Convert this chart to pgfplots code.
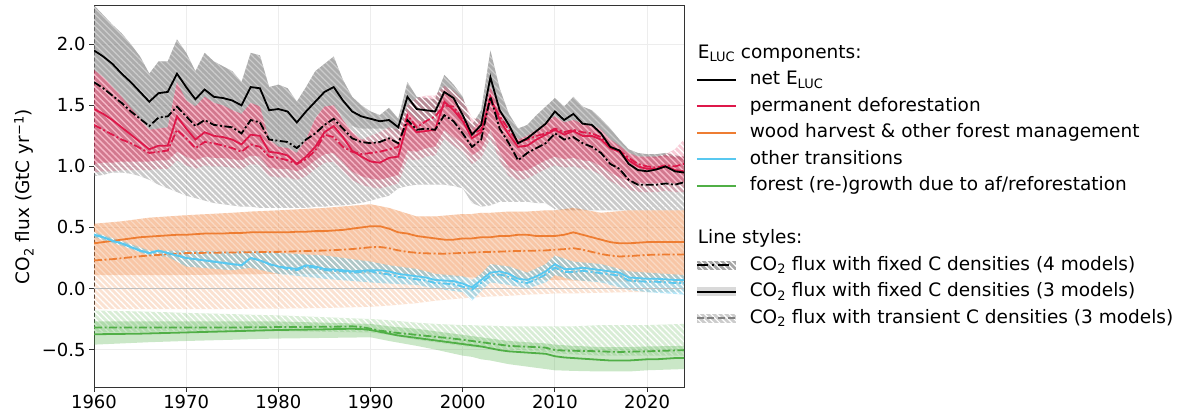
\documentclass[border=0pt]{standalone}
\usepackage{fontspec}
\setmainfont{DejaVu Sans}
\usepackage{pgfplots}
\pgfplotsset{compat=1.18}
\usepackage{pgfplotstable}
\usepgfplotslibrary{fillbetween}
\usetikzlibrary{patterns.meta}

\definecolor{defc}{RGB}{222,24,74}
\definecolor{woodc}{RGB}{238,125,50}
\definecolor{othc}{RGB}{88,200,240}
\definecolor{growc}{RGB}{80,175,70}
\definecolor{zeroc}{RGB}{190,190,190}

% mean fluxes (GtC/yr): 3-model (solid) and 4-model (dash-dot) means
\pgfplotstableread{
year net3 net4 def3 def4 wood3 wood4 oth3 oth4 grow3 grow4
1960 1.95 1.69 1.47 1.34 0.370 0.230 0.440 0.440 -0.375 -0.320
1961 1.90 1.64 1.43 1.30 0.380 0.235 0.420 0.420 -0.374 -0.320
1962 1.84 1.58 1.38 1.26 0.390 0.240 0.390 0.390 -0.373 -0.320
1963 1.76 1.52 1.32 1.22 0.400 0.248 0.370 0.370 -0.372 -0.320
1964 1.69 1.45 1.26 1.19 0.410 0.256 0.340 0.340 -0.371 -0.320
1965 1.61 1.39 1.20 1.15 0.420 0.264 0.310 0.310 -0.370 -0.320
1966 1.53 1.33 1.14 1.11 0.425 0.270 0.290 0.290 -0.368 -0.320
1967 1.60 1.40 1.17 1.12 0.430 0.275 0.310 0.310 -0.366 -0.320
1968 1.61 1.41 1.17 1.13 0.435 0.280 0.290 0.290 -0.364 -0.320
1969 1.76 1.49 1.41 1.30 0.440 0.285 0.270 0.270 -0.362 -0.320
1970 1.65 1.41 1.31 1.23 0.440 0.290 0.250 0.250 -0.360 -0.320
1971 1.55 1.33 1.22 1.15 0.445 0.291 0.240 0.240 -0.358 -0.320
1972 1.63 1.38 1.28 1.20 0.450 0.292 0.230 0.230 -0.356 -0.320
1973 1.57 1.34 1.25 1.19 0.450 0.293 0.220 0.220 -0.354 -0.320
1974 1.56 1.33 1.24 1.17 0.450 0.294 0.210 0.210 -0.352 -0.320
1975 1.54 1.32 1.22 1.15 0.455 0.295 0.200 0.200 -0.350 -0.320
1976 1.50 1.27 1.18 1.12 0.455 0.296 0.190 0.190 -0.348 -0.319
1977 1.65 1.38 1.26 1.18 0.460 0.297 0.250 0.250 -0.346 -0.318
1978 1.64 1.36 1.25 1.16 0.460 0.298 0.230 0.230 -0.344 -0.318
1979 1.46 1.22 1.12 1.08 0.460 0.299 0.200 0.200 -0.342 -0.317
1980 1.47 1.21 1.11 1.07 0.460 0.300 0.180 0.180 -0.340 -0.316
1981 1.45 1.20 1.09 1.05 0.460 0.302 0.170 0.160 -0.339 -0.316
1982 1.36 1.15 1.02 1.02 0.465 0.305 0.160 0.150 -0.338 -0.315
1983 1.45 1.22 1.08 1.06 0.465 0.307 0.190 0.180 -0.337 -0.315
1984 1.53 1.27 1.16 1.13 0.470 0.309 0.180 0.170 -0.336 -0.314
1985 1.61 1.34 1.28 1.26 0.470 0.311 0.160 0.150 -0.335 -0.314
1986 1.65 1.39 1.33 1.24 0.475 0.314 0.155 0.145 -0.333 -0.313
1987 1.54 1.31 1.24 1.16 0.480 0.318 0.150 0.140 -0.331 -0.312
1988 1.45 1.23 1.13 1.12 0.490 0.323 0.140 0.130 -0.330 -0.310
1989 1.41 1.20 1.08 1.10 0.500 0.330 0.145 0.135 -0.332 -0.315
1990 1.39 1.19 1.04 1.11 0.510 0.338 0.150 0.140 -0.340 -0.330
1991 1.37 1.20 1.03 1.12 0.510 0.340 0.150 0.125 -0.355 -0.345
1992 1.38 1.23 1.07 1.14 0.490 0.330 0.140 0.115 -0.370 -0.355
1993 1.32 1.19 1.08 1.16 0.460 0.312 0.120 0.095 -0.385 -0.365
1994 1.57 1.38 1.36 1.42 0.450 0.300 0.110 0.085 -0.395 -0.372
1995 1.47 1.30 1.28 1.32 0.430 0.292 0.100 0.075 -0.405 -0.380
1996 1.46 1.31 1.29 1.37 0.420 0.288 0.090 0.065 -0.415 -0.388
1997 1.45 1.30 1.30 1.41 0.410 0.286 0.070 0.045 -0.425 -0.395
1998 1.61 1.42 1.53 1.50 0.400 0.285 0.065 0.040 -0.435 -0.403
1999 1.56 1.37 1.46 1.49 0.400 0.288 0.060 0.035 -0.445 -0.411
2000 1.42 1.27 1.37 1.38 0.410 0.291 0.040 0.015 -0.455 -0.420
2001 1.26 1.16 1.23 1.27 0.410 0.295 0.010 -0.010 -0.465 -0.430
2002 1.34 1.22 1.28 1.30 0.420 0.298 0.070 0.045 -0.475 -0.440
2003 1.73 1.57 1.57 1.54 0.420 0.300 0.130 0.105 -0.490 -0.450
2004 1.46 1.31 1.38 1.41 0.430 0.302 0.140 0.115 -0.505 -0.460
2005 1.34 1.19 1.26 1.30 0.430 0.305 0.120 0.095 -0.515 -0.470
2006 1.19 1.05 1.16 1.20 0.440 0.307 0.080 0.055 -0.520 -0.474
2007 1.23 1.11 1.17 1.22 0.440 0.309 0.070 0.045 -0.525 -0.477
2008 1.29 1.15 1.22 1.25 0.430 0.310 0.100 0.075 -0.530 -0.480
2009 1.35 1.19 1.26 1.27 0.430 0.312 0.140 0.115 -0.535 -0.485
2010 1.45 1.27 1.30 1.31 0.430 0.318 0.200 0.170 -0.555 -0.505
2011 1.38 1.22 1.26 1.28 0.440 0.322 0.160 0.135 -0.565 -0.508
2012 1.43 1.24 1.29 1.30 0.460 0.330 0.160 0.135 -0.570 -0.510
2013 1.35 1.19 1.25 1.28 0.440 0.318 0.170 0.145 -0.575 -0.512
2014 1.34 1.16 1.25 1.27 0.420 0.300 0.160 0.135 -0.580 -0.513
2015 1.27 1.11 1.22 1.24 0.400 0.282 0.150 0.125 -0.585 -0.515
2016 1.16 1.02 1.15 1.16 0.380 0.270 0.140 0.115 -0.590 -0.518
2017 1.13 0.98 1.12 1.13 0.370 0.262 0.130 0.105 -0.590 -0.520
2018 1.02 0.89 1.05 1.07 0.370 0.265 0.090 0.065 -0.590 -0.518
2019 0.97 0.85 1.00 1.02 0.375 0.270 0.085 0.060 -0.585 -0.516
2020 0.96 0.85 0.98 1.00 0.380 0.275 0.080 0.055 -0.580 -0.515
2021 0.975 0.85 0.98 0.99 0.380 0.277 0.080 0.055 -0.580 -0.512
2022 1.00 0.86 1.00 1.01 0.380 0.278 0.075 0.050 -0.575 -0.510
2023 0.96 0.85 0.97 1.00 0.380 0.278 0.070 0.045 -0.570 -0.507
2024 0.95 0.87 0.96 1.02 0.380 0.278 0.070 0.045 -0.570 -0.505
}\meantab

% ranges for net ELUC (gt, gl: fixed; gt, gtl: transient) and deforestation (pt, pb: fixed; ptt, pbt: transient)
\pgfplotstableread{
year gt gl gtl pt pb ptt pbt
1960 2.32 1.79 0.92 1.79 1.02 1.79 0.95
1961 2.24 1.73 0.93 1.73 1.03 1.73 0.96
1962 2.16 1.65 0.95 1.65 1.03 1.65 0.96
1963 2.09 1.57 0.95 1.57 1.04 1.57 0.97
1964 2.00 1.48 0.94 1.48 1.04 1.48 0.97
1965 1.90 1.39 0.92 1.39 1.04 1.39 0.97
1966 1.76 1.30 0.89 1.30 1.04 1.30 0.97
1967 1.86 1.31 0.85 1.31 1.05 1.31 0.98
1968 1.86 1.32 0.82 1.32 1.05 1.32 0.98
1969 2.04 1.69 0.79 1.69 1.12 1.69 1.05
1970 1.93 1.54 0.76 1.54 1.08 1.54 1.01
1971 1.78 1.49 0.74 1.49 1.05 1.49 0.98
1972 1.93 1.57 0.72 1.57 1.08 1.57 1.01
1973 1.86 1.52 0.70 1.52 1.07 1.52 1.00
1974 1.82 1.50 0.69 1.50 1.07 1.50 1.00
1975 1.78 1.46 0.68 1.46 1.06 1.46 0.99
1976 1.69 1.43 0.67 1.43 1.05 1.43 0.98
1977 1.93 1.52 0.67 1.52 1.09 1.52 1.02
1978 1.91 1.49 0.66 1.49 1.08 1.49 1.01
1979 1.65 1.22 0.66 1.22 0.99 1.22 0.92
1980 1.67 1.16 0.66 1.16 0.98 1.16 0.91
1981 1.64 1.15 0.66 1.15 0.98 1.15 0.91
1982 1.53 1.11 0.66 1.11 0.96 1.11 0.89
1983 1.65 1.22 0.66 1.22 0.99 1.22 0.92
1984 1.78 1.40 0.67 1.39 1.05 1.39 0.98
1985 1.84 1.49 0.67 1.49 1.10 1.49 1.03
1986 1.90 1.50 0.68 1.50 1.11 1.50 1.04
1987 1.71 1.40 0.68 1.38 1.04 1.38 0.97
1988 1.57 1.33 0.69 1.28 0.96 1.28 0.89
1989 1.50 1.31 0.70 1.22 0.92 1.22 0.85
1990 1.45 1.31 0.72 1.20 0.90 1.25 0.83
1991 1.42 1.31 0.74 1.19 0.89 1.28 0.82
1992 1.48 1.31 0.76 1.24 0.91 1.32 0.84
1993 1.39 1.25 0.82 1.20 0.93 1.30 0.86
1994 1.69 1.46 0.84 1.46 1.13 1.50 1.06
1995 1.57 1.38 0.85 1.38 1.12 1.56 1.05
1996 1.56 1.36 0.85 1.36 1.15 1.58 1.08
1997 1.55 1.38 0.85 1.38 1.16 1.58 1.09
1998 1.75 1.64 0.85 1.64 1.30 1.66 1.23
1999 1.67 1.55 0.84 1.55 1.24 1.62 1.17
2000 1.57 1.43 0.82 1.43 1.19 1.55 1.12
2001 1.34 1.30 0.70 1.30 1.09 1.40 1.02
2002 1.46 1.38 0.67 1.38 1.14 1.38 1.07
2003 1.95 1.65 0.68 1.65 1.30 1.65 1.23
2004 1.64 1.47 0.71 1.47 1.12 1.47 1.05
2005 1.43 1.30 0.71 1.30 0.99 1.30 0.92
2006 1.31 1.22 0.71 1.22 0.96 1.22 0.89
2007 1.34 1.25 0.71 1.25 0.97 1.25 0.90
2008 1.42 1.30 0.70 1.30 1.01 1.30 0.94
2009 1.49 1.36 0.70 1.36 1.05 1.36 0.98
2010 1.56 1.41 0.65 1.41 1.08 1.41 1.01
2011 1.49 1.36 0.64 1.36 1.06 1.36 0.99
2012 1.57 1.38 0.64 1.38 1.07 1.38 1.00
2013 1.49 1.35 0.64 1.35 1.05 1.35 0.98
2014 1.46 1.34 0.64 1.34 1.04 1.34 0.97
2015 1.39 1.30 0.64 1.30 1.00 1.30 0.93
2016 1.31 1.22 0.64 1.22 0.95 1.22 0.88
2017 1.22 1.17 0.64 1.17 0.91 1.17 0.84
2018 1.14 1.11 0.64 1.11 0.88 1.11 0.81
2019 1.11 1.08 0.64 1.08 0.86 1.08 0.79
2020 1.10 1.08 0.64 1.08 0.86 1.08 0.79
2021 1.10 1.07 0.64 1.08 0.86 1.08 0.79
2022 1.11 1.08 0.64 1.09 0.87 1.10 0.80
2023 1.09 1.06 0.64 1.08 0.86 1.14 0.79
2024 1.08 1.05 0.64 1.08 0.86 1.22 0.79
}\uptab

% ranges for wood harvest (o*), other transitions (b*) and regrowth (gf*: fixed, gt*: transient)
\pgfplotstableread{
year ot ob otb bt bb gft gfb gtt gtb
1960 0.53 0.11 -0.17 0.46 0.42 -0.27 -0.46 -0.18 -0.36
1963 0.55 0.11 -0.17 0.39 0.35 -0.27 -0.45 -0.185 -0.36
1966 0.58 0.11 -0.17 0.31 0.27 -0.27 -0.44 -0.19 -0.355
1968 0.59 0.11 -0.17 0.31 0.26 -0.27 -0.435 -0.195 -0.35
1970 0.60 0.11 -0.17 0.31 0.18 -0.27 -0.43 -0.20 -0.35
1975 0.62 0.115 -0.17 0.30 0.15 -0.27 -0.42 -0.21 -0.35
1977 0.63 0.115 -0.165 0.31 0.17 -0.27 -0.415 -0.215 -0.35
1980 0.64 0.12 -0.165 0.29 0.12 -0.27 -0.41 -0.22 -0.35
1985 0.66 0.12 -0.16 0.27 0.08 -0.28 -0.405 -0.235 -0.355
1990 0.69 0.12 -0.15 0.22 0.05 -0.29 -0.40 -0.25 -0.36
1992 0.66 0.115 -0.14 0.19 0.04 -0.31 -0.43 -0.26 -0.38
1995 0.59 0.105 -0.12 0.16 0.03 -0.33 -0.47 -0.28 -0.42
1997 0.59 0.10 -0.10 0.12 0.00 -0.35 -0.50 -0.29 -0.44
2000 0.61 0.09 -0.08 0.10 -0.03 -0.38 -0.55 -0.30 -0.47
2001 0.61 0.09 -0.075 0.07 -0.10 -0.39 -0.56 -0.30 -0.48
2002 0.62 0.085 -0.07 0.12 -0.02 -0.40 -0.58 -0.305 -0.485
2003 0.62 0.085 -0.065 0.20 0.05 -0.41 -0.59 -0.305 -0.49
2005 0.63 0.08 -0.06 0.18 0.03 -0.43 -0.62 -0.31 -0.50
2007 0.63 0.075 -0.05 0.13 0.00 -0.44 -0.64 -0.31 -0.51
2009 0.64 0.07 -0.045 0.20 0.05 -0.45 -0.66 -0.31 -0.52
2010 0.64 0.07 -0.04 0.27 0.11 -0.46 -0.67 -0.31 -0.53
2012 0.66 0.065 -0.04 0.22 0.07 -0.47 -0.675 -0.31 -0.54
2015 0.62 0.06 -0.035 0.20 0.05 -0.48 -0.68 -0.30 -0.55
2018 0.64 0.055 -0.03 0.14 -0.01 -0.48 -0.68 -0.30 -0.55
2020 0.64 0.05 -0.03 0.13 -0.03 -0.475 -0.67 -0.30 -0.55
2024 0.64 0.05 -0.03 0.11 -0.05 -0.47 -0.66 -0.29 -0.55
}\lowtab

\pgfplotsset{
  hatchw/.style={draw=none, pattern={Lines[angle=-45,distance=4.3pt,line width=1.2pt]}, pattern color=white, fill opacity=0.5},
  solidl/.style={line width=1.8pt},
  dashdotl/.style={line width=1.8pt, dash pattern=on 8pt off 2.5pt on 2pt off 2.5pt},
  legline/.style={legend image code/.code={\draw[##1] (0pt,0pt) -- (39pt,0pt);}},
  legA/.style={legend image code/.code={
      \fill[draw=none, black!35] (0pt,-4.5pt) rectangle (39pt,4.5pt);
      \fill[draw=none, pattern={Lines[angle=-45,distance=4.3pt,line width=1.2pt]}, pattern color=white] (0pt,-4.5pt) rectangle (39pt,4.5pt);
      \draw[black, line width=1.8pt, dash pattern=on 11pt off 4pt on 2pt off 4pt on 11pt] (0pt,0pt) -- (39pt,0pt);}},
  legB/.style={legend image code/.code={
      \fill[draw=none, black!15] (0pt,-4.5pt) rectangle (39pt,4.5pt);
      \draw[black, line width=1.8pt] (0pt,0pt) -- (39pt,0pt);}},
  legC/.style={legend image code/.code={
      \fill[draw=none, black!20] (0pt,-4.5pt) rectangle (39pt,4.5pt);
      \fill[draw=none, pattern={Lines[angle=-45,distance=4.3pt,line width=1.2pt]}, pattern color=white] (0pt,-4.5pt) rectangle (39pt,4.5pt);
      \draw[black!50, line width=1.8pt, dash pattern=on 7pt off 3.5pt] (0pt,0pt) -- (39pt,0pt);}},
}

\begin{document}
\begin{tikzpicture}
\begin{axis}[
  at={(0pt,0pt)}, anchor=south west,
  scale only axis, width=590pt, height=381pt,
  xmin=1960, xmax=2024, ymin=-0.807, ymax=2.314,
  xtick={1960,1970,1980,1990,2000,2010,2020},
  xticklabels={1960,1970,1980,1990,2000,2010,2020},
  ytick={-0.5,0,0.5,1,1.5,2},
  yticklabels={−0.5,0.0,0.5,1.0,1.5,2.0},
  tick label style={font=\fontsize{18}{21}\selectfont},
  tick align=outside, major tick length=5pt,
  xtick pos=left, ytick pos=left,
  tick style={black!80, line width=1pt},
  axis line style={black!80, line width=1pt},
  grid=major, grid style={black!7, line width=1pt},
  ylabel={CO\textsubscript{2} flux (GtC yr\textsuperscript{−1})},
  ylabel style={font=\fontsize{18.5}{21}\selectfont, at={(axis description cs:-0.1186,0.5)}, anchor=center},
  legend cell align=left,
  legend style={draw=none, fill=none, at={(axis description cs:1,1)}, anchor=north west,
    xshift=12pt, yshift=-34pt, inner sep=0pt, outer sep=0pt,
    font=\fontsize{18.5}{21}\selectfont, row sep=0pt, column sep=11pt,
    nodes={inner sep=2pt, text height=16pt, text depth=6.5pt}},
]
% net ELUC ranges
\addplot[forget plot, draw=none, name path=gT] table[x=year, y=gt]{\uptab};
\addplot[forget plot, draw=none, name path=gL] table[x=year, y=gl]{\uptab};
\addplot[forget plot, draw=none, name path=gB] table[x=year, y=gtl]{\uptab};
\addplot[forget plot, draw=none, fill=black!50, fill opacity=0.42] fill between[of=gT and gB];
\addplot[forget plot, hatchw] fill between[of=gT and gB];
\addplot[forget plot, draw=none, fill=black!50, fill opacity=0.4] fill between[of=gT and gL];

% wood harvest ranges
\addplot[forget plot, draw=none, name path=oT] table[x=year, y=ot]{\lowtab};
\addplot[forget plot, draw=none, name path=oB] table[x=year, y=ob]{\lowtab};
\addplot[forget plot, draw=none, name path=oTB] table[x=year, y=otb]{\lowtab};
\addplot[forget plot, draw=none, fill=woodc, fill opacity=0.22] fill between[of=oT and oTB];
\addplot[forget plot, hatchw] fill between[of=oT and oTB];
\addplot[forget plot, draw=none, fill=woodc, fill opacity=0.28] fill between[of=oT and oB];

% zero reference
\addplot[forget plot, zeroc, line width=1.5pt] coordinates {(1960,0) (2024,0)};

% other transitions range
\addplot[forget plot, draw=none, name path=bT] table[x=year, y=bt]{\lowtab};
\addplot[forget plot, draw=none, name path=bB] table[x=year, y=bb]{\lowtab};
\addplot[forget plot, draw=none, fill=othc, fill opacity=0.45] fill between[of=bT and bB];
\addplot[forget plot, hatchw, fill opacity=0.3] fill between[of=bT and bB];

% regrowth ranges
\addplot[forget plot, draw=none, name path=rT] table[x=year, y=gtt]{\lowtab};
\addplot[forget plot, draw=none, name path=rB] table[x=year, y=gtb]{\lowtab};
\addplot[forget plot, draw=none, name path=rFT] table[x=year, y=gft]{\lowtab};
\addplot[forget plot, draw=none, name path=rFB] table[x=year, y=gfb]{\lowtab};
\addplot[forget plot, draw=none, fill=growc, fill opacity=0.22] fill between[of=rT and rB];
\addplot[forget plot, hatchw] fill between[of=rT and rB];
\addplot[forget plot, draw=none, fill=growc, fill opacity=0.3] fill between[of=rFT and rFB];

% permanent deforestation ranges
\addplot[forget plot, draw=none, name path=pTT] table[x=year, y=ptt]{\uptab};
\addplot[forget plot, draw=none, name path=pBT] table[x=year, y=pbt]{\uptab};
\addplot[forget plot, draw=none, name path=pT] table[x=year, y=pt]{\uptab};
\addplot[forget plot, draw=none, name path=pB] table[x=year, y=pb]{\uptab};
\addplot[forget plot, draw=none, fill=defc, fill opacity=0.22] fill between[of=pTT and pBT];
\addplot[forget plot, hatchw] fill between[of=pTT and pBT];
\addplot[forget plot, draw=none, fill=defc, fill opacity=0.3] fill between[of=pT and pB];

% mean lines
\addplot[forget plot, growc, dashdotl] table[x=year, y=grow4]{\meantab};
\addplot[forget plot, growc, solidl] table[x=year, y=grow3]{\meantab};
\addplot[forget plot, woodc, dashdotl] table[x=year, y=wood4]{\meantab};
\addplot[forget plot, woodc, solidl] table[x=year, y=wood3]{\meantab};
\addplot[forget plot, othc, dashdotl] table[x=year, y=oth4]{\meantab};
\addplot[forget plot, othc, solidl] table[x=year, y=oth3]{\meantab};
\addplot[forget plot, defc, dashdotl] table[x=year, y=def4]{\meantab};
\addplot[forget plot, defc, solidl] table[x=year, y=def3]{\meantab};
\addplot[forget plot, black, dashdotl] table[x=year, y=net4]{\meantab};
\addplot[forget plot, black, solidl] table[x=year, y=net3]{\meantab};

% legend
\addlegendimage{empty legend}
\addlegendentry{\hspace*{-52pt}E\textsubscript{LUC} components:}
\addlegendimage{legline, black, line width=1.8pt}
\addlegendentry{net E\textsubscript{LUC}}
\addlegendimage{legline, defc, line width=1.8pt}
\addlegendentry{permanent deforestation}
\addlegendimage{legline, woodc, line width=1.8pt}
\addlegendentry{wood harvest \& other forest management}
\addlegendimage{legline, othc, line width=1.8pt}
\addlegendentry{other transitions}
\addlegendimage{legline, growc, line width=1.8pt}
\addlegendentry{forest (re-)growth due to af/reforestation}
\addlegendimage{empty legend}
\addlegendentry{}
\addlegendimage{empty legend}
\addlegendentry{\hspace*{-52pt}Line styles:}
\addlegendimage{legA}
\addlegendentry{CO\textsubscript{2} flux with fixed C densities (4 models)}
\addlegendimage{legB}
\addlegendentry{CO\textsubscript{2} flux with fixed C densities (3 models)}
\addlegendimage{legC}
\addlegendentry{CO\textsubscript{2} flux with transient C densities (3 models)}
\end{axis}
\pgfresetboundingbox
\path[use as bounding box] (-94pt,-31pt) rectangle (1089pt,387pt);
\end{tikzpicture}
\end{document}
